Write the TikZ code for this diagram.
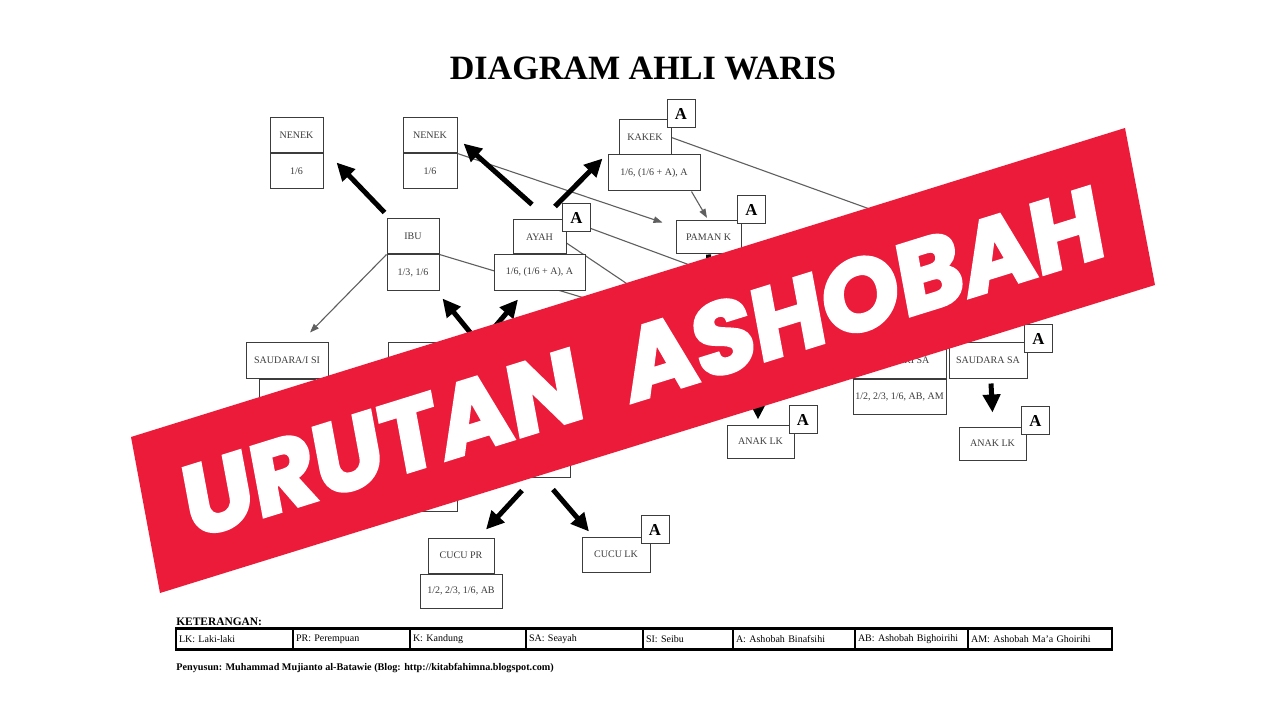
\documentclass[tikz,border=0pt]{standalone}
\usepackage{fontspec}
\setmainfont{Liberation Serif}
\newfontfamily\bannerfont{Poppins}[FakeBold=3.5]
\usetikzlibrary{positioning,arrows.meta}
\definecolor{bannerred}{RGB}{237,27,58}
\definecolor{linegray}{RGB}{95,95,95}
\definecolor{boxgray}{RGB}{60,60,60}
\newcommand\boxfont{\fontsize{5.7}{6.5}\selectfont}
\newcommand\afont{\fontsize{9.5}{10}\selectfont\bfseries}
\newcommand\titlefont{\fontsize{19.4}{22}\selectfont\bfseries}
\newcommand\legendfont{\fontsize{5.7}{6.5}\selectfont}
\pgfdeclarelayer{lines}
\pgfsetlayers{lines,main}

\begin{document}
\begin{tikzpicture}[x=0.2mm, y=-0.2mm,
  box/.style={rectangle, draw=boxgray, fill=white, line width=0.2mm, inner sep=0pt, minimum height=7mm, text=boxgray, font=\boxfont},
  abox/.style={rectangle, draw=boxgray, fill=white, line width=0.2mm, inner sep=0pt, minimum size=5.6mm, font=\afont},
  relline/.style={draw=linegray, line width=0.22mm},
  relarrow/.style={relline, -{Triangle[length=1.8mm, width=1.3mm]}},
  heavyarrow/.style={line width=1mm, -{Triangle[length=3.6mm, width=3.4mm]}},
  cell/.style={rectangle, draw, line width=0.2mm, anchor=west, inner xsep=0.5mm, inner ysep=0pt, minimum height=4mm, align=left, font=\legendfont}]

\useasboundingbox (0,0) rectangle (1280,720);

\draw (643,68) node (title) [font=\titlefont] {DIAGRAM AHLI WARIS};

% kakek nenek
\draw (296.5,135.5) node (nenekA) [box, minimum width=10.6mm] {NENEK};
\draw (nenekA.south) node (nenekAshare) [box, below, minimum width=10.6mm] {1/6};
\draw (430,135.5) node (nenekB) [box, minimum width=10.8mm] {NENEK};
\draw (nenekB.south) node (nenekBshare) [box, below, minimum width=10.8mm] {1/6};
\draw (645,137.5) node (kakek) [box, minimum width=10.4mm] {KAKEK};
\draw (kakek.north east) ++(9.5,-5.5) node (kakekA) [abox] {A};
\draw (654,173) node (kakekshare) [box, minimum width=18.4mm, minimum height=7.2mm] {1/6, (1/6 + A), A};

% ibu bapak
\draw (413,236.5) node (ibu) [box, minimum width=10.4mm] {IBU};
\draw (ibu.south) node (ibushare) [box, below, minimum width=10.4mm] {1/3, 1/6};
\draw (539.5,237) node (ayah) [box, minimum width=10.6mm, minimum height=6.8mm] {AYAH};
\draw (ayah.north east) ++(10,-1.5) node (ayahA) [abox] {A};
\draw (ayah.south) node (ayahshare) [box, below, minimum width=18.2mm] {1/6, (1/6 + A), A};
\draw (708.5,237.5) node (paman) [box, minimum width=13mm, minimum height=6.6mm] {PAMAN K};
\draw (paman.north east) ++(10,-11) node (pamanA) [abox] {A};

% saudara
\draw (287,360.5) node (saudarai) [box, minimum width=16.4mm] {SAUDARA/I SI};
\draw (saudarai.south) node (saudaraishare) [box, below, minimum width=11.2mm] {};
\draw (421.5,360.5) node (anakpr) [box, minimum width=13.4mm] {};
\draw (899.5,360.5) node (saudari) [box, minimum width=18.6mm] {SAUDARI SA};
\draw (saudari.south) node (saudarishare) [box, below, minimum width=18.6mm] {1/2, 2/3, 1/6, AB, AM};
\draw (988,360.5) node (saudara) [box, minimum width=15.6mm] {SAUDARA SA};
\draw (saudara.north east) ++(11,-4) node (saudaraA) [abox] {A};

% anak cucu
\draw (537.5,460) node (anak) [box, minimum width=13mm, minimum height=6.8mm] {};
\draw (426.5,493.5) node (anakshare) [box, minimum width=12.2mm] {};
\draw (760.5,441.5) node (anaklkA) [box, minimum width=13.4mm, minimum height=6.6mm] {ANAK LK};
\draw (anaklkA.north east) ++(8.5,-5) node (anaklkAA) [abox] {A};
\draw (992.5,443.5) node (anaklkB) [box, minimum width=13.4mm, minimum height=6.6mm] {ANAK LK};
\draw (anaklkB.north east) ++(9,-6) node (anaklkBA) [abox] {A};
\draw (461,555.5) node (cucupr) [box, minimum width=13.2mm] {CUCU PR};
\draw (cucupr.south) node (cucuprshare) [box, below, minimum width=16.4mm, minimum height=6.8mm] {1/2, 2/3, 1/6, AB};
\draw (616,554.5) node (cuculk) [box, minimum width=13.6mm] {CUCU LK};
\draw (cuculk.north east) ++(4.5,-7) node (cuculkA) [abox] {A};

\coordinate (kakekend) at (950,238);
\coordinate (ayahend) at (700,333);
\coordinate (pamanend) at (709,300);
\coordinate (anakup) at (758,380);
\coordinate (xa) at (504,374);
\coordinate (xb) at (448,382);

\begin{pgfonlayer}{lines}
\fill [white] (0,0) rectangle (1280,720);
\draw [relarrow] (ibu.south west) -- ([xshift=4.6mm,yshift=2mm]saudarai.north);
\draw [relline] (ibu.south east) -- (saudari.south west);
\draw [relarrow] (nenekB.south east) -- ([xshift=-2.6mm,yshift=-0.4mm]paman.north west);
\draw [relarrow, shorten >=0.6mm] ([xshift=-1.8mm]kakekshare.south east) -- (paman.north);
\draw [relline] (kakek.east) -- (kakekend);
\draw [relline] (ayah.north east) -- (saudari.north);
\draw [relline] ([yshift=-1.2mm]ayah.east) -- (ayahend);
\end{pgfonlayer}

\draw [heavyarrow] ([xshift=-0.4mm,yshift=1.2mm]ibu.north west) -- ([xshift=2.6mm,yshift=5.4mm]nenekAshare.south east);
\draw [heavyarrow] ([xshift=-1.5mm,yshift=3mm]ayah.north) -- ([xshift=1.2mm,yshift=2mm]nenekB.south east);
\draw [heavyarrow] ([xshift=3.1mm,yshift=2.6mm]ayah.north) -- ([xshift=-1mm,yshift=-0.8mm]kakekshare.north west);
\draw [heavyarrow] (xa) -- ([xshift=0.6mm,yshift=-1.6mm]ibushare.south east);
\draw [heavyarrow] (xb) -- ([xshift=-4.3mm,yshift=-1.8mm]ayahshare.south);
\draw [heavyarrow] ([xshift=-3.1mm,yshift=-2.6mm]anak.south) -- ([xshift=5mm,yshift=1.6mm]cucupr.north);
\draw [heavyarrow] ([xshift=3.1mm,yshift=-2.4mm]anak.south) -- ([xshift=-5.4mm,yshift=1mm]cuculk.north);
\draw [heavyarrow] (paman.south) -- (pamanend);
\draw [heavyarrow] (anakup) -- ([xshift=-0.5mm,yshift=1mm]anaklkA.north);
\draw [heavyarrow] ([xshift=0.6mm,yshift=-1mm]saudara.south) -- ([yshift=2.8mm]anaklkB.north);

% keterangan
\draw (176,625) node (keterangan) [anchor=base west, inner sep=0pt, font=\fontsize{6.5}{7}\selectfont\bfseries] {KETERANGAN:};
\draw (176,639) node (lk) [cell, text width=22.2mm] {LK: Laki-laki};
\node (pr) [cell, text width=22.2mm, right=0pt of lk] {PR: Perempuan};
\node (k) [cell, text width=22mm, right=0pt of pr] {K: Kandung};
\node (sa) [cell, text width=22.2mm, right=0pt of k] {SA: Seayah};
\node (si) [cell, text width=16.8mm, right=0pt of sa] {SI: Seibu};
\node (a) [cell, text width=23.2mm, right=0pt of si] {A: Ashobah Binafsihi};
\node (ab) [cell, text width=21.4mm, right=0pt of a] {AB: Ashobah Bighoirihi};
\node (am) [cell, text width=27.6mm, right=0pt of ab] {AM: Ashobah Ma'a Ghoirihi};
\draw [line width=0.45mm] (lk.north west) rectangle (am.south east);
\draw (176,670) node (penyusun) [anchor=base west, inner sep=0pt, font=\fontsize{5.8}{7}\selectfont\bfseries] {Penyusun: Muhammad Mujianto al-Batawie (Blog: http://kitabfahimna.blogspot.com)};

% spanduk
\fill [bannerred] (131,437) -- (1125,128) -- (1155,285) -- (160,593) -- cycle;
\begin{scope}[shift={(643,362)}]
\node (urutan) [text=white, font=\bannerfont\fontsize{57}{62}\selectfont\bfseries, cm={0.955,0.297,-0.183,0.983,(0,0)}] at (0,0) {URUTAN\hspace{0.45em}ASHOBAH};
\end{scope}

\end{tikzpicture}
\end{document}
